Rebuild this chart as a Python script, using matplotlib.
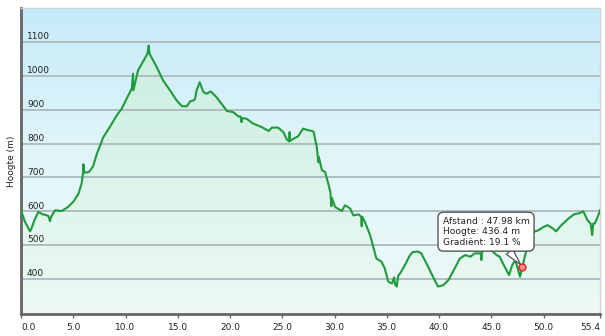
import numpy as np
import matplotlib
matplotlib.use('Agg')
import matplotlib.pyplot as plt
from matplotlib.colors import LinearSegmentedColormap
from matplotlib.patches import Polygon

# ---- data ----
km = [0.0, 0.38, 0.86, 0.95, 1.3, 1.66, 2.1, 2.6, 2.78, 2.87, 3.25, 3.9, 4.5, 5.0, 5.5, 5.8,
      5.95, 5.97, 6.05, 6.5, 6.9, 7.24, 7.88, 8.5, 9.16, 9.64, 10.1, 10.6, 10.72, 10.75, 11.2,
      11.7, 12.1, 12.22, 12.3, 13.0, 13.6, 14.26, 14.9, 15.4, 15.86, 16.2, 16.5, 16.65, 16.8,
      17.1, 17.45, 17.77, 18.15, 18.7, 19.2, 19.7, 20.3, 20.8, 21.0, 21.1, 21.2, 21.6, 22.2,
      23.0, 23.7, 24.0, 24.6, 25.1, 25.4, 25.65, 25.7, 25.75, 26.06, 26.5, 27.0, 27.5, 27.9,
      28.0, 28.3, 28.45, 28.5, 28.8, 29.1, 29.4, 29.6, 29.7, 29.75, 30.05, 30.7, 31.0, 31.5,
      31.8, 32.3, 32.55, 32.6, 32.65, 32.9, 33.4, 33.7, 34.0, 34.5, 34.8, 35.15, 35.5, 35.7,
      35.8, 35.95, 36.1, 36.3, 36.8, 37.2, 37.5, 38.0, 38.3, 38.8, 39.5, 39.9, 40.4, 40.9,
      41.4, 42.0, 42.5, 43.0, 43.4, 44.0, 44.05, 44.1, 44.4, 44.8, 45.2, 45.5, 45.8, 46.2,
      46.7, 47.0, 47.3, 47.75, 47.98, 48.2, 48.5, 48.9, 49.0, 49.5, 50.0, 50.4, 50.9, 51.2,
      51.7, 52.4, 52.9, 53.35, 53.8, 54.2, 54.5, 54.65, 54.75, 54.9, 55.25, 55.4]
elev = [603, 569, 541, 545, 575, 598, 591, 587, 571, 583, 603, 601, 613, 628, 652, 682,
        716, 739, 714, 716, 733, 768, 819, 849, 883, 903, 932, 962, 1006, 957, 1016,
        1043, 1065, 1089, 1065, 1025, 986, 957, 927, 910, 910, 925, 927, 932, 957,
        981, 952, 947, 954, 937, 917, 896, 893, 880, 880, 863, 875, 873, 859,
        849, 837, 847, 847, 834, 814, 806, 834, 808, 814, 821, 844, 839, 837,
        834, 790, 745, 760, 721, 716, 682, 657, 615, 640, 613, 601, 618, 608,
        588, 591, 584, 556, 584, 569, 530, 495, 461, 451, 432, 392, 387, 405,
        385, 378, 410, 418, 445, 470, 480, 481, 476, 446, 402, 378, 382, 397,
        426, 461, 471, 466, 476, 476, 456, 478, 495, 490, 480, 471, 466, 441,
        412, 441, 456, 407, 436.4, 466, 500, 530, 539, 544, 554, 559, 549, 541,
        559, 579, 591, 594, 600, 574, 564, 530, 564, 564, 589, 603]

x_ticks = [0, 5, 10, 15, 20, 25, 30, 35, 40, 45, 50, 55.4]
x_tick_labels = ['0.0', '5.0', '10.0', '15.0', '20.0', '25.0', '30.0', '35.0',
                 '40.0', '45.0', '50.0', '55.4']
y_ticks = [400, 500, 600, 700, 800, 900, 1000, 1100]
y_label = 'Hoogte (m)'

cursor_km = 47.98
cursor_elev = 436.4
cursor_grad = 19.1

# ---- figure ----
fig = plt.figure(figsize=(6.05, 3.36), dpi=100)
fig.patch.set_facecolor('white')
ax = fig.add_axes([21 / 605, 22 / 336, 579 / 605, 306 / 336])
ymin, ymax = 297, 1200
xmin, xmax = 0, km[-1]
ax.set_xlim(xmin, xmax)
ax.set_ylim(ymin, ymax)

grad = np.linspace(0, 1, 256).reshape(-1, 1)
bg_cmap = LinearSegmentedColormap.from_list('bg', ['#ecfaf5', '#e2f6fa', '#c6ebf8'])
ax.imshow(grad, cmap=bg_cmap, extent=[xmin, xmax, ymin, ymax], origin='lower',
          aspect='auto', zorder=0, interpolation='bilinear')

fill_cmap = LinearSegmentedColormap.from_list('fill', ['#edfaf3', '#d9f3e9', '#c6ecdc'])
im2 = ax.imshow(grad, cmap=fill_cmap, extent=[xmin, xmax, ymin, ymax], origin='lower',
                aspect='auto', zorder=1, interpolation='bilinear')
verts = np.vstack([[km[0], ymin], np.column_stack([km, elev]), [km[-1], ymin]])
poly = Polygon(verts, closed=True, transform=ax.transData, facecolor='none', edgecolor='none')
im2.set_clip_path(poly)

for v in y_ticks:
    ax.axhline(v, color='#abb9be', lw=1.3, zorder=2)
    ax.annotate(str(v), xy=(0, v), xycoords=('axes fraction', 'data'),
                xytext=(4.3, 2.0), textcoords='offset points', ha='left', va='baseline',
                fontsize=6.5, color='#222222', zorder=3)

ax.plot(km, elev, color='#1f9a3c', lw=1.5, zorder=4, solid_joinstyle='round')

# ticks
ax.set_yticks([])
ax.set_xticks(x_ticks)
ax.set_xticklabels(x_tick_labels)
ax.tick_params(axis='x', direction='out', length=3, width=1, color='#666666',
               labelsize=6.5, labelcolor='#222222', pad=3.5)
lbls = ax.get_xticklabels()
lbls[0].set_ha('left')
lbls[-1].set_ha('right')

for s in ['left', 'bottom']:
    ax.spines[s].set_color('#666666')
    ax.spines[s].set_linewidth(2)
for s in ['top', 'right']:
    ax.spines[s].set_color('#cfd4d6')
    ax.spines[s].set_linewidth(1)

fig.text(12 / 605, 1 - 161 / 336, y_label, rotation=90, ha='center', va='center',
         fontsize=6.5, color='#222222')

# tooltip
tip = f"Afstand : {cursor_km:.2f} km\nHoogte: {cursor_elev:.1f} m\nGradiënt: {cursor_grad:.1f} %"
ax.annotate(tip, xy=(cursor_km, cursor_elev), xytext=(-57.5, 36.0), textcoords='offset points',
            ha='left', va='top', fontsize=6.6, color='#222222', linespacing=1.2,
            bbox=dict(boxstyle='round,pad=0.5,rounding_size=0.6', fc='white', ec='#555555', lw=1),
            arrowprops=dict(arrowstyle='wedge,tail_width=0.9', fc='white', ec='#555555', lw=0.9,
                            shrinkA=0, shrinkB=2, relpos=(0.72, 0.0)),
            zorder=7)
ax.plot([cursor_km], [cursor_elev], marker='o', ms=5, mfc='#ff8a8a', mec='#e02525',
        mew=1, zorder=8)

fig.savefig('out.png', dpi=100, facecolor='white')
